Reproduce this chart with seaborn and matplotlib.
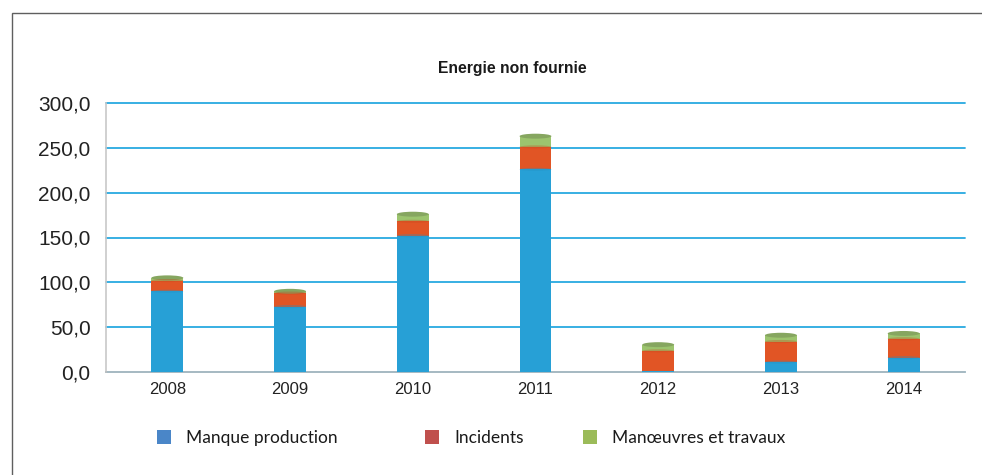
import matplotlib
matplotlib.use("Agg")
import matplotlib.pyplot as plt
import seaborn as sns
import pandas as pd
import numpy as np
from matplotlib.patches import Rectangle, Ellipse
from matplotlib.ticker import FuncFormatter

years = ["2008", "2009", "2010", "2011", "2012", "2013", "2014"]
manque_production = [90, 73, 152, 226, 1.5, 11, 16]
incidents = [12, 15, 16, 25, 22, 23, 21]
manoeuvres = [3, 2, 8, 12, 7, 7, 6]
series_names = ["Manque production", "Incidents", "Manœuvres et travaux"]
title = "Energie non fournie"
yticks = [0, 50, 100, 150, 200, 250, 300]

bar_colors = ["#27a0d6", "#e15525", "#9cc46e"]
legend_colors = ["#4a86c8", "#c0504d", "#9bbb59"]

df = pd.DataFrame({
    "year": years,
    "s1": manque_production,
    "s2": np.array(manque_production) + np.array(incidents),
    "s3": np.array(manque_production) + np.array(incidents) + np.array(manoeuvres),
})

sns.set_theme(style="white")
plt.rcParams["font.family"] = ["Liberation Sans", "DejaVu Sans"]

fig = plt.figure(figsize=(9.82, 4.75), dpi=100)
fig.patch.set_facecolor("white")

# outer frame
fig.patches.append(Rectangle((12 / 982, -0.2), 1.2, 1.2 - 13 / 475,
                             transform=fig.transFigure, fill=False,
                             edgecolor="#5f5f5f", linewidth=1.0, zorder=0))

ax = fig.add_axes([106 / 982, 1 - 372 / 475, (965 - 106) / 982, (372 - 103) / 475])
ax.set_facecolor("none")

width = 0.26
for col, c in zip(["s3", "s2", "s1"], [bar_colors[2], bar_colors[1], bar_colors[0]]):
    sns.barplot(data=df, x="year", y=col, color=c, width=width, ax=ax,
                saturation=1, edgecolor="none", zorder=3)

# cylinder caps derived from data tops
for i, tot in enumerate(df["s3"]):
    ax.add_patch(Ellipse((i, tot), width, 5.5, facecolor="#86a660", edgecolor="none", zorder=4))
    for col, ec in [("s2", "#c9491f"), ("s1", "#2390c2")]:
        v = df[col][i]
        if v > 3:
            ax.add_patch(Ellipse((i, v), width, 3.5, facecolor=ec, edgecolor="none",
                                 alpha=0.35, zorder=4))

ax.set_ylim(0, 300)
ax.set_xlim(-0.5, 6.5)
ax.set_yticks(yticks)
ax.yaxis.set_major_formatter(FuncFormatter(lambda v, p: f"{v:.1f}".replace(".", ",")))
ax.grid(axis="y", color="#27a9e1", linewidth=1.3, zorder=1)
ax.grid(axis="x", visible=False)
for gl in ax.get_ygridlines():
    gl.set_clip_on(False)
ax.set_axisbelow(True)
ax.set_xlabel("")
ax.set_ylabel("")
ax.tick_params(axis="y", length=0, pad=11, labelsize=15, labelcolor="#222222")
ax.tick_params(axis="x", length=0, pad=7, labelsize=12, labelcolor="#222222")
for s in ["top", "right"]:
    ax.spines[s].set_visible(False)
ax.spines["left"].set_color("#c8c8c8")
ax.spines["bottom"].set_color("#bdbdbd")
ax.spines["left"].set_linewidth(1.2)
ax.spines["bottom"].set_linewidth(1.2)

fig.text(512 / 982, 1 - 68 / 475, title, ha="center", va="center",
         fontsize=11.3, fontweight="bold", color="#1a1a1a")

# legend entries
leg_x = [141, 409, 567]
for name, c, x in zip(series_names, legend_colors, leg_x):
    h = Rectangle((0, 0), 1, 1, facecolor=c, edgecolor="none")
    lg = fig.legend([h], [name], loc="center left",
                    bbox_to_anchor=(x / 982, 1 - 438 / 475), frameon=False,
                    handlelength=0.8, handleheight=0.8, handletextpad=0.9,
                    prop={"family": ["Lato", "DejaVu Sans"], "size": 12.5})
    for t in lg.get_texts():
        t.set_color("#1a1a1a")

fig.savefig("out.png", dpi=100, facecolor="white")
